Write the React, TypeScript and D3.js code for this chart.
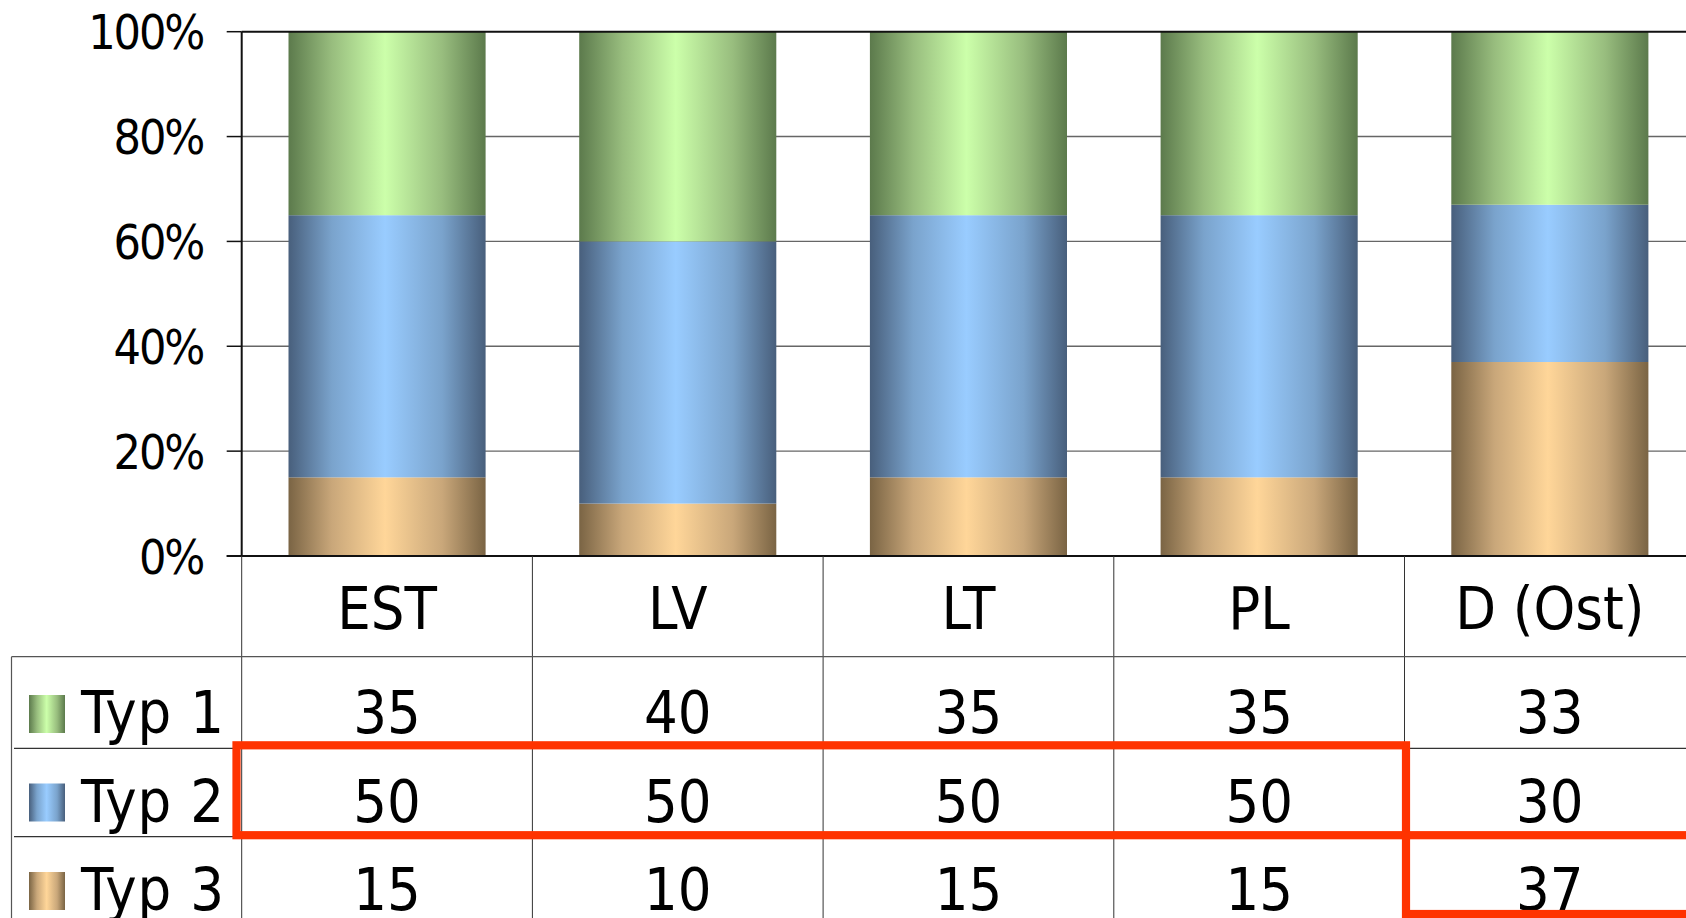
import React from "react";
import * as d3 from "d3";

const categories = ["EST", "LV", "LT", "PL", "D (Ost)"];
const seriesNames = ["Typ 1", "Typ 2", "Typ 3"];
const typ1 = [35, 40, 35, 35, 33];
const typ2 = [50, 50, 50, 50, 30];
const typ3 = [15, 10, 15, 15, 37];
const yTicks = [0, 20, 40, 60, 80, 100];

const W = 1686;
const H = 918;
const FONT = "'DejaVu Sans Condensed', 'DejaVu Sans', sans-serif";

const gradients = [
  { id: "g1", dark: "#5c7a4c", mid: "#98bd7e", light: "#ccffaa" },
  { id: "g2", dark: "#485f7c", mid: "#7aa3cc", light: "#99ccff" },
  { id: "g3", dark: "#7a6444", mid: "#c9a77a", light: "#ffd699" },
];

export default function App() {
  const x0 = 241.7;
  const step = 290.7;
  const x = d3
    .scaleBand<string>()
    .domain(categories)
    .range([x0, x0 + step * categories.length])
    .paddingInner(0.322)
    .paddingOuter(0.161);
  const y = d3.scaleLinear().domain([0, 100]).range([556, 31.7]);

  const rows = categories.map((c, i) => ({ cat: c, t1: typ1[i], t2: typ2[i], t3: typ3[i] }));
  const stack = d3.stack<any>().keys(["t3", "t2", "t1"])(rows);
  const gradFor: Record<string, string> = { t1: "g1", t2: "g2", t3: "g3" };

  const right = x0 + step * categories.length;
  const rowLines = [656.7, 748.3, 836.7];
  const tableRows = [
    { name: seriesNames[0], vals: typ1, base: 733, grad: "g1" },
    { name: seriesNames[1], vals: typ2, base: 821.5, grad: "g2" },
    { name: seriesNames[2], vals: typ3, base: 910, grad: "g3" },
  ];

  return (
    <svg width={W} height={H} style={{ position: "absolute", left: 0, top: 0, background: "#fff" }}>
      <defs>
        {gradients.map((g) => (
          <linearGradient key={g.id} id={g.id} x1="0" x2="1" y1="0" y2="0">
            <stop offset="0" stopColor={g.dark} />
            <stop offset="0.22" stopColor={g.mid} />
            <stop offset="0.49" stopColor={g.light} />
            <stop offset="0.78" stopColor={g.mid} />
            <stop offset="1" stopColor={g.dark} />
          </linearGradient>
        ))}
      </defs>
      <rect x={0} y={0} width={W} height={H} fill="#fff" />

      {/* gridlines */}
      {yTicks.filter((t) => t > 0 && t < 100).map((t) => (
        <line key={t} x1={x0} x2={right} y1={y(t)} y2={y(t)} stroke="#666" strokeWidth={1.4} />
      ))}

      {/* bars */}
      {stack.map((layer) =>
        layer.map((d, i) => (
          <rect
            key={layer.key + i}
            x={x(categories[i])!}
            width={x.bandwidth()}
            y={y(d[1])}
            height={y(d[0]) - y(d[1])}
            fill={`url(#${gradFor[layer.key]})`}
          />
        ))
      )}

      {/* plot top border */}
      <line x1={x0} x2={right} y1={y(100)} y2={y(100)} stroke="#111" strokeWidth={2} />
      {/* y axis */}
      <line x1={x0} x2={x0} y1={y(100)} y2={y(0)} stroke="#111" strokeWidth={2} />
      {yTicks.map((t) => (
        <g key={t}>
          <line x1={x0 - 15} x2={x0} y1={y(t)} y2={y(t)} stroke="#111" strokeWidth={1.5} />
          <text x={203} y={y(t) + 17.5} textAnchor="end" fontFamily={FONT} fontSize={48} letterSpacing={-2.2} fill="#000">
            {t}%
          </text>
        </g>
      ))}
      {/* x axis */}
      <line x1={x0 - 15} x2={right} y1={y(0)} y2={y(0)} stroke="#111" strokeWidth={2} />

      {/* data table lines */}
      {categories.map((c, i) => (
        <line key={c} x1={x0 + i * step} x2={x0 + i * step} y1={y(0)} y2={H} stroke="#333" strokeWidth={1} />
      ))}
      <line x1={11.5} x2={right} y1={rowLines[0]} y2={rowLines[0]} stroke="#555" strokeWidth={1.2} />
      <line x1={14} x2={right} y1={rowLines[1]} y2={rowLines[1]} stroke="#333" strokeWidth={1.2} />
      <line x1={14} x2={right} y1={rowLines[2]} y2={rowLines[2]} stroke="#333" strokeWidth={1.2} />
      <line x1={11.5} x2={11.5} y1={rowLines[0]} y2={H} stroke="#555" strokeWidth={1.2} />

      {/* category labels */}
      {categories.map((c) => (
        <text key={c} x={x(c)! + x.bandwidth() / 2} y={629.3} textAnchor="middle" fontFamily={FONT} fontSize={59} fill="#000">
          {c}
        </text>
      ))}

      {/* table rows */}
      {tableRows.map((r) => (
        <g key={r.name}>
          <rect x={29} y={r.base - 38} width={36} height={38} fill={`url(#${r.grad})`} />
          <text x={81} y={r.base} fontFamily={FONT} fontSize={59} letterSpacing={1} fill="#000">
            {r.name}
          </text>
          {r.vals.map((v, i) => (
            <text key={i} x={x(categories[i])! + x.bandwidth() / 2} y={r.base} textAnchor="middle" fontFamily={FONT} fontSize={59} fill="#000">
              {v}
            </text>
          ))}
        </g>
      ))}

      {/* red highlight boxes */}
      <rect x={236.5} y={745.3} width={1406 - 236.5} height={835.2 - 745.3} fill="none" stroke="#ff3300" strokeWidth={8.2} />
      <rect x={1406} y={835.2} width={400} height={914 - 835.2} fill="none" stroke="#ff3300" strokeWidth={8.2} />
    </svg>
  );
}
